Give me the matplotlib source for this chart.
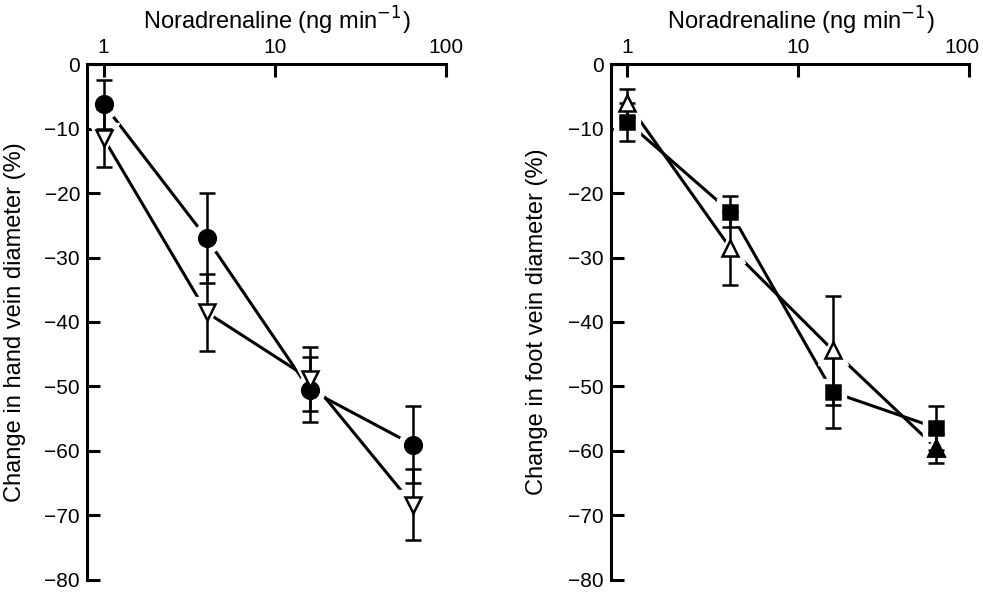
import matplotlib
matplotlib.use('Agg')
import matplotlib.pyplot as plt
import matplotlib.transforms as mtransforms
from matplotlib.ticker import FixedLocator, FixedFormatter, NullLocator

plt.rcParams['font.family'] = ['Liberation Sans', 'DejaVu Sans']

# dose of noradrenaline (ng/min)
doses = [1, 4, 16, 64]

# hand vein: filled circles and open down-triangles (mean, SEM)
hand_circle = [-6.2, -27.0, -50.5, -59.0]
hand_circle_err = [3.8, 7.0, 5.0, 6.0]
hand_tri = [-11.5, -38.5, -48.8, -68.3]
hand_tri_err = [4.5, 6.0, 5.0, 5.5]

# foot vein: filled squares and open up-triangles (last one printed filled)
foot_square = [-9.0, -22.9, -50.9, -56.4]
foot_square_err = [3.0, 2.4, 5.5, 3.4]
foot_tri = [-6.0, -28.5, -44.4, -59.5]
foot_tri_err = [2.2, 5.7, 8.5, 2.3]

xticks = [1, 10, 100]
xticklabels = ['1', '10', '100']
yticks = [0, -10, -20, -30, -40, -50, -60, -70, -80]

fig = plt.figure(figsize=(9.83, 5.93), dpi=100)
ax1 = fig.add_axes([0.0885, 0.022, 0.365, 0.870])
ax2 = fig.add_axes([0.6213, 0.022, 0.3645, 0.870])

lw = 2.2


def style_axis(ax, ylabel, lx):
    ax.set_xscale('log')
    ax.set_xlim(0.8, 100)
    ax.set_ylim(-80, 0)
    for s in ['bottom', 'right']:
        ax.spines[s].set_visible(False)
    for s in ['top', 'left']:
        ax.spines[s].set_linewidth(lw)
    ax.xaxis.tick_top()
    ax.xaxis.set_label_position('top')
    ax.xaxis.set_major_locator(FixedLocator(xticks))
    ax.xaxis.set_major_formatter(FixedFormatter(xticklabels))
    ax.xaxis.set_minor_locator(NullLocator())
    ax.set_yticks(yticks)
    ax.tick_params(direction='in', length=9, width=lw, labelsize=15, pad=5)
    ax.set_xlabel('Noradrenaline (ng min$^{-1}$)', fontsize=17)
    ax.xaxis.set_label_coords(0.53, 1.066)
    ax.set_ylabel(ylabel, fontsize=17)
    ax.yaxis.set_label_coords(lx, 0.5)


def draw_series(ax, y, yerr, marker, ms, face):
    ax.plot(doses, y, '-', color='k', lw=lw, zorder=1, clip_on=False)
    ax.plot(doses, y, marker, ms=ms + 9, color='white', mec='white', zorder=2, clip_on=False)
    ax.errorbar(doses, y, yerr=yerr, fmt='none', ecolor='k', elinewidth=1.8,
                capsize=5.5, capthick=1.8, zorder=3, clip_on=False)
    ax.plot(doses, y, marker, ms=ms, mfc=face, mec='k', mew=1.8, zorder=4,
            linestyle='none', clip_on=False)


style_axis(ax1, 'Change in hand vein diameter (%)', -0.17)
draw_series(ax1, hand_circle, hand_circle_err, 'o', 12, 'k')
draw_series(ax1, hand_tri, hand_tri_err, 'v', 12, 'white')

style_axis(ax2, 'Change in foot vein diameter (%)', -0.175)
draw_series(ax2, foot_square, foot_square_err, 's', 10, 'k')
draw_series(ax2, foot_tri, foot_tri_err, '^', 12, 'white')
ax2.plot(doses[-1:], foot_tri[-1:], '^', ms=12, mfc='k', mec='k', mew=1.8, zorder=5,
         clip_on=False)

# the last top label sits a little left of its tick, as in the print
fig.canvas.draw()
lab = ax2.get_xticklabels()[-1]
lab.set_transform(lab.get_transform() +
                  mtransforms.ScaledTranslation(-7 / 100, 0, fig.dpi_scale_trans))

plt.savefig('out.png', dpi=100)
plt.close()
